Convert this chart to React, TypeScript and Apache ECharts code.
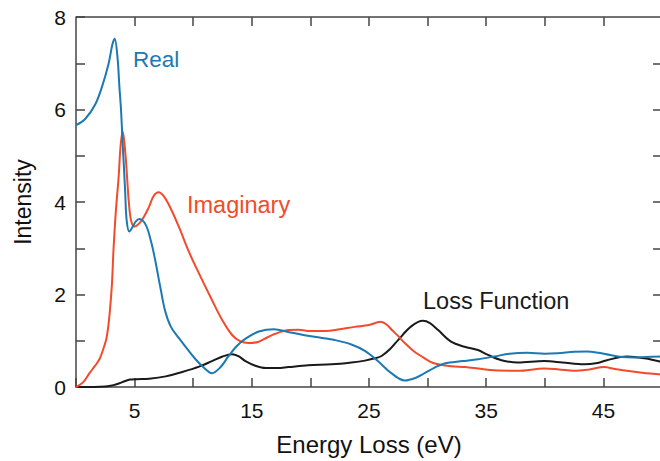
import React, { useEffect, useRef } from "react";
import * as echarts from "echarts";

// Energy loss (eV) and intensity values for each curve
const realE = [0, 0.8, 1.66, 2.23, 2.79, 3.1, 3.3, 3.55, 3.7, 3.84, 3.98, 4.1, 4.2, 4.32, 4.55, 4.8, 5.11, 5.4, 5.96, 6.4, 6.75, 7.2, 7.6, 8.1, 8.8, 9.5, 10.2, 10.9, 11.6, 12.3, 13.0, 13.7, 14.5, 15.6, 16.9, 18.1, 19.5, 21.0, 22.0, 23.5, 24.65, 25.8, 26.9, 28.05, 29.0, 29.75, 30.6, 31.45, 33.0, 34.3, 35.7, 37.0, 38.5, 40.0, 41.1, 42.5, 43.6, 44.6, 45.6, 46.6, 47.6, 48.6, 50];
const realV = [5.66, 5.8, 6.12, 6.5, 7.0, 7.4, 7.53, 7.1, 6.5, 6.0, 5.27, 4.7, 4.19, 3.61, 3.36, 3.45, 3.58, 3.63, 3.5, 3.15, 2.75, 2.15, 1.65, 1.3, 1.05, 0.82, 0.6, 0.42, 0.3, 0.42, 0.66, 0.88, 1.05, 1.2, 1.25, 1.19, 1.12, 1.06, 1.02, 0.92, 0.78, 0.55, 0.3, 0.14, 0.2, 0.3, 0.42, 0.51, 0.56, 0.6, 0.66, 0.72, 0.74, 0.72, 0.73, 0.76, 0.77, 0.74, 0.69, 0.65, 0.64, 0.65, 0.66];

const imagE = [0, 0.6, 1.15, 1.6, 2.0, 2.3, 2.57, 2.75, 2.9, 3.07, 3.2, 3.4, 3.64, 3.8, 3.98, 4.12, 4.26, 4.38, 4.49, 4.69, 4.97, 5.54, 6.24, 6.6, 7.04, 7.5, 8.1, 8.8, 9.64, 10.5, 11.6, 12.47, 13.3, 14.0, 14.74, 15.6, 16.3, 17.0, 18.1, 19.0, 19.8, 21.3, 22.5, 23.8, 25.0, 25.6, 26.0, 26.5, 27.0, 27.5, 28.05, 28.8, 29.5, 30.2, 30.9, 32.0, 33.2, 34.3, 35.7, 37.7, 39.95, 41.2, 42.5, 43.8, 45.05, 46.0, 47.0, 48.3, 50];
const imagV = [0, 0.1, 0.3, 0.45, 0.6, 0.8, 1.02, 1.3, 1.67, 2.24, 2.97, 3.8, 4.55, 5.2, 5.53, 5.3, 4.9, 4.45, 4.05, 3.61, 3.47, 3.58, 3.9, 4.12, 4.21, 4.12, 3.85, 3.45, 2.92, 2.45, 1.88, 1.45, 1.13, 0.99, 0.95, 0.98, 1.07, 1.15, 1.23, 1.24, 1.21, 1.21, 1.25, 1.3, 1.34, 1.39, 1.41, 1.35, 1.22, 1.1, 0.95, 0.78, 0.66, 0.55, 0.49, 0.45, 0.43, 0.4, 0.36, 0.35, 0.4, 0.38, 0.35, 0.38, 0.43, 0.39, 0.35, 0.31, 0.27];

const lossE = [0, 1.5, 2.5, 3.2, 3.7, 4.2, 4.6, 5.2, 6.24, 7.66, 9.0, 10.5, 11.6, 12.5, 13.3, 13.9, 14.46, 15.3, 16.2, 17.2, 18.1, 19.8, 21.8, 23.5, 24.65, 25.5, 26.07, 26.8, 27.5, 28.6, 29.6, 30.2, 30.9, 32.0, 33.15, 34.3, 35.1, 36.3, 37.7, 39.95, 41.5, 43.35, 44.5, 45.3, 47.0, 48.5, 50];
const lossV = [0, 0, 0.01, 0.04, 0.08, 0.13, 0.16, 0.17, 0.18, 0.23, 0.32, 0.44, 0.56, 0.66, 0.71, 0.66, 0.56, 0.46, 0.41, 0.41, 0.43, 0.47, 0.49, 0.53, 0.57, 0.62, 0.67, 0.82, 1.02, 1.31, 1.43, 1.38, 1.23, 0.98, 0.87, 0.8, 0.7, 0.58, 0.53, 0.56, 0.53, 0.49, 0.52, 0.58, 0.66, 0.62, 0.54];

const seriesNames = ["Real", "Imaginary", "Loss Function"];
const xTickLabels = [5, 15, 25, 35, 45];
const yTickLabels = [0, 2, 4, 6, 8];
const xTickValues = [5, 10, 15, 20, 25, 30, 35, 40, 45];
const yTickValues = [1, 2, 3, 4, 5, 6, 7];
const X_MIN = 0;
const X_MAX = 50;
const Y_MIN = 0;
const Y_MAX = 8;

const BLUE = "#1B79B4";
const RED = "#F24B2C";
const BLACK = "#1a1a1a";
const AXIS = "#444";
const FONT = "Liberation Sans, Arial, sans-serif";

const zip = (xs: number[], ys: number[]) => xs.map((x, i) => [x, ys[i]]);

// Layout of the plot area (pixels)
const W = 665;
const H = 461;
const G_LEFT = 76;
const G_TOP = 17;
const G_RIGHT = 0;
const G_BOTTOM = 74;
const TICK = 9;

export default function App() {
  const ref = useRef<HTMLDivElement>(null);
  useEffect(() => {
    if (!ref.current) return;
    const chart = echarts.init(ref.current, null, { renderer: "svg" });
    const axisLine = () => ({ show: true, onZero: false, lineStyle: { color: AXIS, width: 1.5 } });
    const tick = () => ({ show: true, inside: true, length: TICK, lineStyle: { color: AXIS, width: 1.5 } });

    // tick lengths expressed in axis units so the frame is drawn through the axes' scales
    const tickX = (TICK * (X_MAX - X_MIN)) / (W - G_LEFT - G_RIGHT);
    const tickY = (TICK * (Y_MAX - Y_MIN)) / (H - G_TOP - G_BOTTOM);
    const frameData: any[] = [
      [{ coord: [X_MIN, Y_MAX] }, { coord: [X_MAX, Y_MAX] }],
      [{ coord: [X_MAX, Y_MIN] }, { coord: [X_MAX, Y_MAX] }],
      ...xTickValues.map((v) => [{ coord: [v, Y_MAX] }, { coord: [v, Y_MAX - tickY] }]),
      ...yTickValues.map((v) => [{ coord: [X_MAX - tickX, v] }, { coord: [X_MAX, v] }]),
    ];

    const mkLine = (name: string, data: number[][], color: string, withFrame: boolean) => ({
      type: "line",
      name,
      data,
      smooth: 0.35,
      showSymbol: false,
      symbol: "none",
      clip: false,
      lineStyle: { color, width: 2 },
      itemStyle: { color },
      ...(withFrame
        ? {
            markLine: {
              silent: true,
              symbol: ["none", "none"],
              label: { show: false },
              emphasis: { disabled: true },
              lineStyle: { color: AXIS, width: 1.5, type: "solid" },
              data: frameData,
            },
          }
        : {}),
    });

    chart.setOption({
      animation: false,
      backgroundColor: "#fff",
      grid: { left: G_LEFT, top: G_TOP, right: G_RIGHT, bottom: G_BOTTOM },
      xAxis: {
        type: "value",
        min: X_MIN,
        max: X_MAX,
        interval: 5,
        position: "bottom",
        name: "Energy Loss (eV)",
        nameLocation: "middle",
        nameGap: 45,
        nameTextStyle: { fontSize: 24, color: "#111", fontFamily: FONT },
        axisLine: axisLine(),
        axisTick: tick(),
        splitLine: { show: false },
        axisLabel: {
          fontSize: 21,
          color: "#111",
          fontFamily: FONT,
          margin: 13,
          formatter: (v: number) => (xTickLabels.includes(v) ? String(v) : ""),
        },
      },
      yAxis: {
        type: "value",
        min: Y_MIN,
        max: Y_MAX,
        interval: 1,
        position: "left",
        name: "Intensity",
        nameLocation: "middle",
        nameGap: 42,
        nameRotate: 90,
        nameTextStyle: { fontSize: 23, color: "#111", fontFamily: FONT },
        axisLine: axisLine(),
        axisTick: tick(),
        splitLine: { show: false },
        axisLabel: {
          fontSize: 21,
          color: "#111",
          fontFamily: FONT,
          margin: 10,
          formatter: (v: number) => (yTickLabels.includes(v) ? String(v) : ""),
        },
      },
      series: [
        mkLine(seriesNames[2], zip(lossE, lossV), BLACK, true),
        mkLine(seriesNames[1], zip(imagE, imagV), RED, false),
        mkLine(seriesNames[0], zip(realE, realV), BLUE, false),
      ],
      graphic: [
        { type: "text", left: 133, top: 48, style: { text: seriesNames[0], fontSize: 22.5, fill: BLUE, fontFamily: FONT } },
        { type: "text", left: 187, top: 193, style: { text: seriesNames[1], fontSize: 23.5, fill: RED, fontFamily: FONT } },
        { type: "text", left: 423, top: 289, style: { text: seriesNames[2], fontSize: 23.5, fill: BLACK, fontFamily: FONT } },
      ],
    });

    return () => chart.dispose();
  }, []);
  return (
    <div
      ref={ref}
      style={{ position: "fixed", left: 0, top: 0, width: W, height: H }}
    />
  );
}
